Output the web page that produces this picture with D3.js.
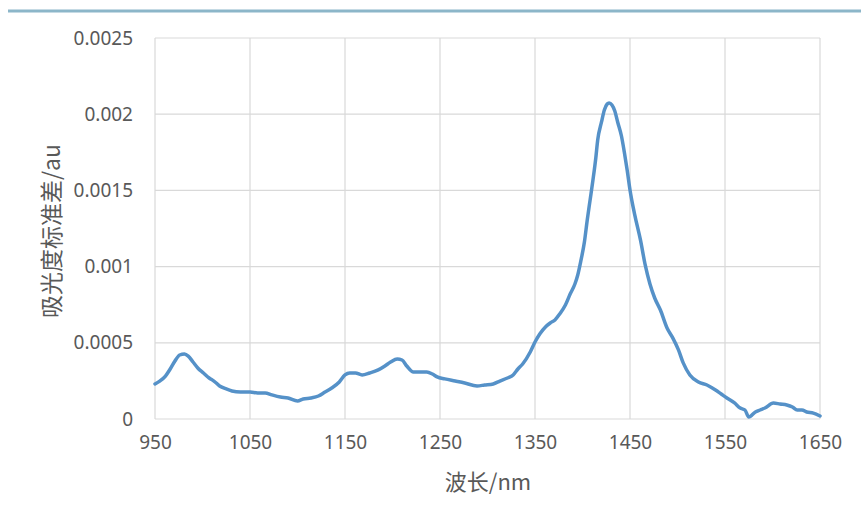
<!DOCTYPE html>
<html>
<head>
<meta charset="utf-8">
<script src="https://cdn.jsdelivr.net/npm/d3@7"></script>
<style>
  html, body { margin: 0; padding: 0; background: #ffffff; }
  svg { display: block; }
</style>
</head>
<body>
<svg id="chart" width="861" height="522"></svg>
<script>
// Spectrum: wavelength (nm) and standard deviation of absorbance (au)
const wavelengths = [
  950, 955, 961, 966, 971, 976, 981, 985, 990, 995,
  1001, 1007, 1012, 1018, 1025, 1031, 1040, 1050, 1058, 1066,
  1073, 1082, 1090, 1100, 1106, 1114, 1122, 1129, 1136, 1144,
  1150, 1155, 1161, 1168, 1176, 1185, 1192, 1198, 1205, 1210,
  1215, 1222, 1229, 1236, 1242, 1247, 1255, 1266, 1276, 1289,
  1297, 1306, 1313, 1321, 1327, 1332, 1337, 1345, 1350, 1355,
  1361, 1366, 1371, 1376, 1382, 1387, 1392, 1395, 1398, 1402,
  1405, 1408, 1411, 1414, 1416, 1420, 1423, 1426, 1428, 1431,
  1434, 1437, 1441, 1444, 1447, 1450, 1455, 1461, 1466, 1471,
  1476, 1482, 1489, 1495, 1501, 1506, 1513, 1522, 1531, 1540,
  1546, 1552, 1560, 1566, 1571, 1575, 1582, 1587, 1592, 1601,
  1608, 1615, 1621, 1626, 1631, 1636, 1643, 1650
];
const absorbanceStd = [
  0.000230, 0.000249, 0.000282, 0.000328, 0.000381, 0.000420, 0.000427, 0.000413, 0.000374, 0.000335,
  0.000302, 0.000269, 0.000249, 0.000217, 0.000197, 0.000184, 0.000177, 0.000177, 0.000171, 0.000171,
  0.000158, 0.000144, 0.000138, 0.000118, 0.000131, 0.000138, 0.000151, 0.000177, 0.000203, 0.000243,
  0.000289, 0.000302, 0.000302, 0.000289, 0.000302, 0.000322, 0.000348, 0.000374, 0.000394, 0.000387,
  0.000348, 0.000308, 0.000308, 0.000308, 0.000295, 0.000276, 0.000263, 0.000249, 0.000236, 0.000217,
  0.000223, 0.000230, 0.000249, 0.000269, 0.000289, 0.000328, 0.000361, 0.000440, 0.000505, 0.000558,
  0.000604, 0.000630, 0.000650, 0.000689, 0.000748, 0.000820, 0.000886, 0.000945, 0.001030, 0.001161,
  0.001306, 0.001437, 0.001568, 0.001713, 0.001831, 0.001949, 0.002028, 0.002067, 0.002074, 0.002060,
  0.002021, 0.001949, 0.001857, 0.001752, 0.001634, 0.001503, 0.001339, 0.001175, 0.001011, 0.000886,
  0.000794, 0.000715, 0.000597, 0.000532, 0.000453, 0.000368, 0.000289, 0.000243, 0.000223, 0.000190,
  0.000164, 0.000138, 0.000105, 0.000072, 0.000059, 0.000013, 0.000046, 0.000059, 0.000072, 0.000105,
  0.000098, 0.000092, 0.000079, 0.000059, 0.000059, 0.000046, 0.000039, 0.000020
];

const xTicks = [950, 1050, 1150, 1250, 1350, 1450, 1550, 1650];
const xTickLabels = ["950", "1050", "1150", "1250", "1350", "1450", "1550", "1650"];
const yTicks = [0, 0.0005, 0.001, 0.0015, 0.002, 0.0025];
const yTickLabels = ["0", "0.0005", "0.001", "0.0015", "0.002", "0.0025"];

const xTitle = "波长/nm";
const yTitle = "吸光度标准差/au";

const svg = d3.select("#chart");
const plot = { left: 155, right: 820, top: 38, bottom: 419 };

const x = d3.scaleLinear().domain([950, 1650]).range([plot.left, plot.right]);
const y = d3.scaleLinear().domain([0, 0.0025]).range([plot.bottom, plot.top]);

// Rule across the top of the page
svg.append("line")
  .attr("x1", 8).attr("x2", 861)
  .attr("y1", 11).attr("y2", 11)
  .attr("stroke", "#8cb6c9")
  .attr("stroke-width", 3);

// Gridlines
const grid = svg.append("g").attr("stroke", "#d9d9d9").attr("stroke-width", 1.2);
grid.selectAll("line.h").data(yTicks).join("line")
  .attr("class", "h")
  .attr("x1", plot.left).attr("x2", plot.right)
  .attr("y1", d => y(d)).attr("y2", d => y(d));
grid.selectAll("line.v").data(xTicks).join("line")
  .attr("class", "v")
  .attr("x1", d => x(d)).attr("x2", d => x(d))
  .attr("y1", plot.top).attr("y2", plot.bottom);

// Axes (labels only; the grid supplies the lines)
const fontFamily = "'Noto Sans', 'Open Sans', sans-serif";
const xAxis = svg.append("g")
  .attr("transform", `translate(0,${plot.bottom})`)
  .call(d3.axisBottom(x).tickValues(xTicks)
    .tickFormat((d, i) => xTickLabels[i]).tickSize(0).tickPadding(17));
xAxis.select(".domain").remove();
xAxis.selectAll("text")
  .attr("fill", "#595959")
  .style("font-family", fontFamily)
  .style("font-size", "19px");

const yAxis = svg.append("g")
  .attr("transform", `translate(${plot.left},0)`)
  .call(d3.axisLeft(y).tickValues(yTicks)
    .tickFormat((d, i) => yTickLabels[i]).tickSize(0).tickPadding(22));
yAxis.select(".domain").remove();
yAxis.selectAll("text")
  .attr("fill", "#595959")
  .style("font-family", fontFamily)
  .style("font-size", "19px");

// Axis titles
svg.append("text")
  .attr("x", 488).attr("y", 490)
  .attr("text-anchor", "middle")
  .attr("fill", "#595959")
  .style("font-family", "'Noto Sans CJK SC', 'Noto Sans', sans-serif")
  .style("font-size", "22px")
  .text(xTitle);

svg.append("text")
  .attr("transform", "translate(60,231) rotate(-90)")
  .attr("text-anchor", "middle")
  .attr("fill", "#595959")
  .style("font-family", "'Noto Sans CJK SC', 'Noto Sans', sans-serif")
  .style("font-size", "23px")
  .text(yTitle);

// Spectrum line
const series = wavelengths.map((w, i) => [w, absorbanceStd[i]]);
svg.append("path")
  .datum(series)
  .attr("fill", "none")
  .attr("stroke", "#5591c8")
  .attr("stroke-width", 3.5)
  .attr("stroke-linejoin", "round")
  .attr("stroke-linecap", "round")
  .attr("d", d3.line()
    .x(d => x(d[0]))
    .y(d => y(d[1]))
    .curve(d3.curveMonotoneX));
</script>
</body>
</html>
